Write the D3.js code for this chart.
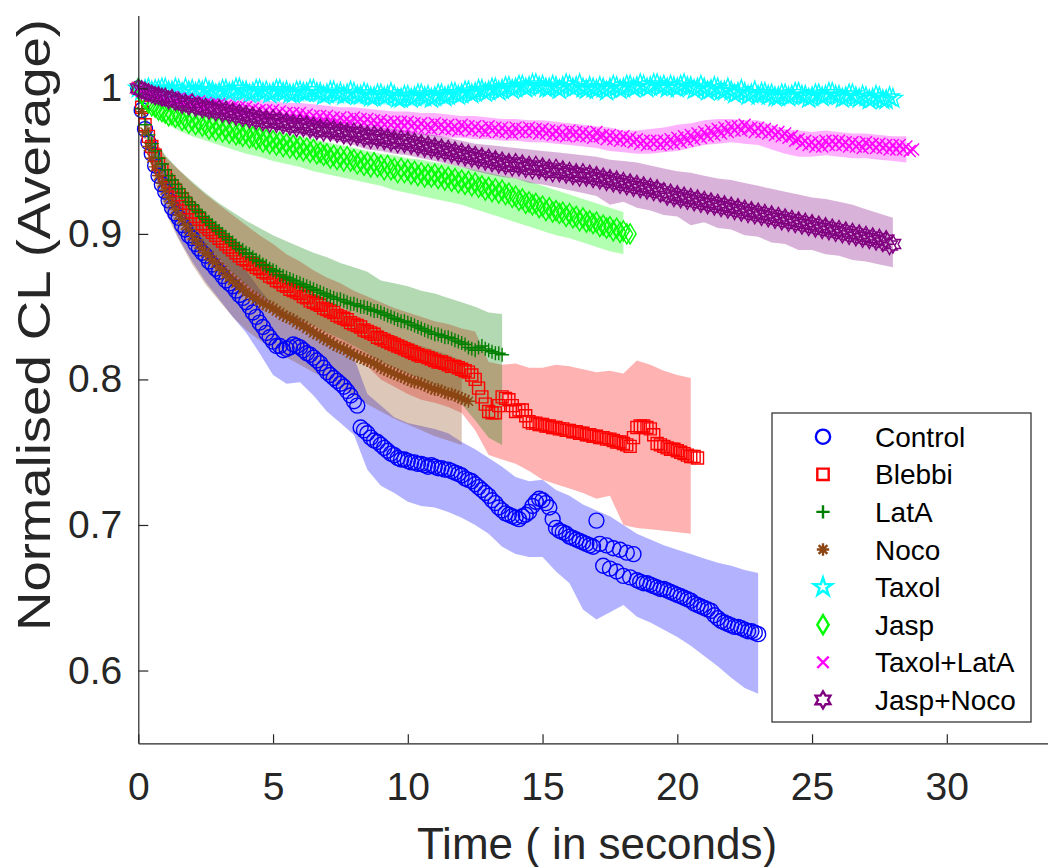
<!DOCTYPE html>
<html><head><meta charset="utf-8">
<script src="https://cdn.jsdelivr.net/npm/d3@7"></script>
<style>body{margin:0;background:#fff}svg{display:block;font-family:"Liberation Sans",Arial,sans-serif}</style>
</head><body><svg id="c" width="1048" height="867"></svg>
<script>
// ---------- data ----------
const timeGrid=[0,0.125,0.25,0.375,0.5,0.625,0.75,0.875,1,1.125,1.25,1.375,1.5,1.625,1.75,1.875,2,2.125,2.25,2.375,2.5,2.625,2.75,2.875,3,3.125,3.25,3.375,3.5,3.625,3.75,3.875,4,4.125,4.25,4.375,4.5,4.625,4.75,4.875,5,5.125,5.25,5.375,5.5,5.625,5.75,5.875,6,6.125,6.25,6.375,6.5,6.625,6.75,6.875,7,7.125,7.25,7.375,7.5,7.625,7.75,7.875,8,8.125,8.25,8.375,8.5,8.625,8.75,8.875,9,9.125,9.25,9.375,9.5,9.625,9.75,9.875,10,10.125,10.25,10.375,10.5,10.625,10.75,10.875,11,11.125,11.25,11.375,11.5,11.625,11.75,11.875,12,12.125,12.25,12.375,12.5,12.625,12.75,12.875,13,13.125,13.25,13.375,13.5,13.625,13.75,13.875,14,14.125,14.25,14.375,14.5,14.625,14.75,14.875,15,15.125,15.25,15.375,15.5,15.625,15.75,15.875,16,16.125,16.25,16.375,16.5,16.625,16.75,16.875,17,17.125,17.25,17.375,17.5,17.625,17.75,17.875,18,18.125,18.25,18.375,18.5,18.625,18.75,18.875,19,19.125,19.25,19.375,19.5,19.625,19.75,19.875,20,20.125,20.25,20.375,20.5,20.625,20.75,20.875,21,21.125,21.25,21.375,21.5,21.625,21.75,21.875,22,22.125,22.25,22.375,22.5,22.625,22.75,22.875,23,23.125,23.25,23.375,23.5,23.625,23.75,23.875,24,24.125,24.25,24.375,24.5,24.625,24.75,24.875,25,25.125,25.25,25.375,25.5,25.625,25.75,25.875,26,26.125,26.25,26.375,26.5,26.625,26.75,26.875,27,27.125,27.25,27.375,27.5,27.625,27.75,27.875,28,28.125,28.25,28.375,28.5,28.625,28.75];
const bandGrid=[0,0.5,1,1.5,2,2.5,3,3.5,4,4.5,5,5.5,6,6.5,7,7.5,8,8.5,9,9.5,10,10.5,11,11.5,12,12.5,13,13.5,14,14.5,15,15.5,16,16.5,17,17.5,18,18.5,19,19.5,20,20.5,21,21.5,22,22.5,23,23.5,24,24.5,25,25.5,26,26.5,27,27.5,28,28.5];

const seriesNames=["Control","Blebbi","LatA","Noco","Taxol","Jasp","Taxol+LatA","Jasp+Noco"];
const xTicks=[0,5,10,15,20,25,30];
const yTicks=[0.6,0.7,0.8,0.9,1];

const control=[1.000,.985,.972,.963,.955,.947,.940,.934,
.929,.923,.918,.914,.911,.906,.903,.899,
.897,.893,.890,.887,.885,.881,.879,.876,
.874,.871,.868,.866,.864,.861,.858,.856,
.853,.850,.846,.843,.839,.836,.832,.829,
.826,.823,.823,.820,.821,.822,.824,.823,
.822,.820,.818,.817,.815,.813,.811,.808,
.805,.803,.801,.799,.797,.795,.792,.789,
.785,.782,.767,.765,.763,.760,.758,.757,
.755,.753,.751,.749,.748,.746,.745,.745,
.744,.743,.743,.742,.742,.741,.740,.741,
.740,.739,.739,.738,.738,.737,.736,.735,
.734,.732,.731,.730,.728,.726,.724,.722,
.720,.717,.715,.712,.710,.708,.707,.706,
.705,.704,.706,.707,.709,.713,.716,.718,
.717,.715,.712,.704,.698,.696,.695,.694,
.692,.691,.690,.689,.688,.687,.686,.685,
.703,.687,.672,.686,.670,.684,.668,.683,
.665,.681,.664,.680,.662,.661,.660,.660,
.659,.658,.657,.656,.656,.655,.654,.653,
.652,.651,.650,.649,.648,.646,.645,.644,
.643,.642,.641,.638,.636,.634,.633,.632,
.631,.630,.630,.629,.628,.627,.627,.626,
.625];
const controlUpper=[1.0,.962,.94,.925,.913,.903,.893,.884,.875,.862,.851,.846,.842,.835,.83,.821,.815,.79,.782,.774,.77,.768,.766,.763,.757,.752,.746,.74,.733,.73,.731,.724,.72,.714,.71,.706,.70,.694,.69,.686,.683,.68,.677,.674,.672,.669,.667];
const controlLower=[1.0,.948,.918,.897,.881,.867,.855,.843,.832,.818,.803,.797,.798,.789,.778,.770,.762,.738,.727,.722,.716,.713,.712,.709,.705,.70,.694,.685,.68,.678,.678,.668,.66,.642,.635,.64,.645,.637,.633,.628,.623,.617,.61,.603,.595,.588,.584];

const blebbi=[1.0,.987,.975,.967,.960,.954,.948,.944,
.940,.936,.933,.930,.927,.924,.921,.918,
.915,.912,.910,.907,.905,.903,.901,.899,
.897,.895,.893,.891,.889,.887,.885,.883,
.882,.880,.879,.877,.876,.874,.873,.871,
.870,.868,.867,.865,.864,.862,.861,.860,
.859,.857,.856,.854,.853,.852,.851,.849,
.848,.847,.846,.844,.843,.842,.841,.839,
.838,.837,.836,.834,.833,.832,.831,.829,
.828,.827,.826,.825,.824,.823,.822,.821,
.820,.819,.818,.817,.816,.816,.815,.814,
.813,.812,.812,.811,.810,.809,.809,.808,
.807,.806,.805,.803,.800,.794,.788,.783,
.778,.777,.777,.782,.788,.787,.786,.782,
.778,.779,.779,.775,.771,.770,.770,.769,
.769,.768,.768,.767,.767,.766,.766,.765,
.765,.764,.764,.763,.763,.762,.762,.761,
.761,.760,.760,.759,.759,.758,.757,.757,
.756,.755,.754,.760,.767,.768,.768,.767,
.766,.762,.756,.755,.754,.753,.752,.752,
.751,.750,.749,.748,.747,.747,.746];
const blebbiUpper=[1.0,.968,.953,.944,.935,.927,.92,.913,.906,.899,.893,.886,.881,.875,.870,.866,.861,.857,.853,.849,.846,.843,.84,.838,.835,.833,.812,.81,.811,.808,.808,.81,.809,.807,.805,.806,.804,.813,.81,.806,.803,.801];
const blebbiLower=[1.0,.952,.927,.91,.895,.883,.874,.865,.858,.853,.847,.842,.837,.831,.826,.82,.815,.809,.80,.795,.79,.786,.784,.781,.777,.765,.748,.745,.742,.737,.731,.728,.725,.722,.718,.72,.70,.698,.697,.696,.695,.694];

const latA=[1.0,.986,.975,.968,.962,.957,.952,.948,
.944,.940,.937,.934,.931,.928,.925,.922,
.920,.917,.915,.912,.910,.908,.906,.904,
.902,.900,.898,.896,.894,.892,.890,.889,
.887,.886,.884,.882,.881,.879,.878,.876,
.875,.874,.872,.871,.870,.869,.868,.867,
.866,.865,.864,.863,.862,.861,.860,.859,
.858,.857,.856,.855,.855,.854,.853,.852,
.852,.851,.850,.850,.849,.848,.847,.847,
.846,.845,.844,.843,.842,.841,.840,.840,
.839,.838,.837,.836,.835,.834,.833,.832,
.831,.831,.830,.829,.829,.828,.827,.826,
.825,.824,.822,.821,.820,.822,.823,.821,
.820,.819,.818,.818,.817];
const latAUpper=[1.0,.968,.954,.944,.936,.928,.921,.915,.909,.904,.899,.895,.891,.887,.884,.88,.877,.874,.868,.866,.864,.861,.859,.856,.853,.85,.846,.845];
const latALower=[1.0,.956,.934,.918,.904,.892,.883,.873,.865,.858,.851,.845,.841,.837,.832,.828,.823,.818,.812,.808,.804,.80,.795,.79,.783,.772,.76,.755];

const noco=[1.0,.984,.970,.960,.952,.946,.940,.935,
.930,.925,.921,.917,.913,.910,.906,.903,
.899,.896,.893,.890,.887,.885,.882,.880,
.877,.875,.872,.870,.868,.866,.864,.862,
.860,.858,.857,.855,.854,.852,.851,.850,
.849,.847,.846,.844,.843,.842,.841,.839,
.838,.837,.835,.834,.832,.831,.830,.828,
.827,.826,.824,.823,.822,.821,.820,.818,
.817,.816,.815,.814,.813,.812,.811,.810,
.808,.807,.806,.805,.804,.803,.802,.801,
.800,.799,.798,.798,.797,.796,.795,.794,
.793,.793,.792,.791,.790,.790,.789,.788,
.787,.786,.785];
const nocoUpper=[1.0,.962,.945,.932,.921,.911,.902,.894,.887,.88,.875,.869,.864,.858,.852,.847,.842,.838,.834,.830,.826,.823,.82,.817,.813];
const nocoLower=[1.0,.942,.915,.896,.879,.865,.854,.843,.834,.827,.821,.815,.81,.805,.80,.794,.789,.783,.778,.773,.769,.765,.761,.758,.755];

const taxol=[1.0,.998,.999,1.0,.998,.999,.999,1.0,
1.0,.998,.998,1.0,.999,.997,1.0,.998,
.999,.997,.999,.998,1.0,.998,.998,.996,
.997,.999,.999,.997,.998,1.0,1.0,.998,
.998,.996,.997,.999,.999,.997,.998,.996,
.997,.999,.999,.997,.998,.996,.996,.998,
.998,.997,.997,.999,.999,.997,.997,.995,
.996,.998,.998,.996,.997,.995,.996,.998,
.997,.995,.995,.997,.996,.994,.994,.996,
.996,.994,.995,.997,.995,.993,.993,.995,
.995,.993,.994,.996,.996,.994,.995,.993,
.994,.996,.996,.994,.995,.997,.997,.995,
.996,.998,.998,.996,.997,.999,.999,.997,
.998,1.0,1.0,.998,.999,1.001,1.001,.999,
1.0,1.002,1.002,1.0,1.001,1.003,1.003,1.001,
1.002,1.0,1.0,1.002,1.001,.999,1.001,1.003,
1.002,1.0,1.001,1.003,1.0,.999,1.001,1.0,
.999,1.001,1.0,.998,1.0,1.002,1.001,.999,
1.0,1.002,1.002,1.0,1.001,1.003,1.002,1.0,
1.001,1.003,1.003,1.001,1.002,1.000,1.002,1.001,
1.0,1.002,1.003,1.001,1.001,.999,1.0,1.002,
1.0,.998,.999,1.001,1.0,.998,.998,1.0,
.998,.996,.997,.999,.997,.995,.996,.998,
.995,.997,.997,.995,.996,.994,.994,.996,
.996,.994,.995,.997,.997,.995,.995,.993,
.994,.996,.996,.994,.995,.997,.997,.995,
.995,.993,.994,.996,.996,.994,.993,.995,
.994,.992,.993,.995,.994,.992,.992,.994,
.993];
const taxolUpper=[1.0,1.003,1.004,1.003,1.003,1.002,1.003,1.002,1.002,1.001,1.001,1.002,1.0,1.0,1.0,.999,.999,.998,.999,.998,.998,.997,.999,.998,1.0,1.002,1.004,1.003,1.005,1.004,1.004,1.003,1.003,1.004,1.004,1.003,1.005,1.004,1.006,1.005,1.004,1.005,1.004,1.003,1.002,1.001,.999,1.0,.999,.998,1.0,.999,.998,.999,.997,.998,.996];
const taxolLower=[1.0,.995,.995,.995,.994,.994,.994,.993,.993,.992,.992,.992,.991,.991,.990,.990,.989,.989,.989,.988,.988,.988,.989,.989,.991,.993,.995,.995,.996,.996,.996,.995,.995,.996,.995,.995,.996,.996,.997,.996,.996,.996,.995,.994,.993,.992,.990,.990,.989,.989,.990,.990,.989,.990,.988,.989,.987];

const jasp=[1.0,.996,.993,.990,.988,.987,.985,.984,
.983,.981,.982,.980,.981,.978,.979,.976,
.978,.975,.977,.974,.975,.972,.974,.971,
.973,.970,.972,.969,.971,.968,.969,.967,
.969,.966,.967,.965,.966,.963,.965,.962,
.964,.961,.963,.960,.962,.959,.961,.958,
.960,.957,.959,.956,.958,.955,.956,.954,
.955,.952,.954,.951,.953,.950,.953,.950,
.951,.948,.950,.947,.949,.946,.949,.946,
.947,.944,.947,.944,.945,.942,.945,.942,
.944,.941,.943,.940,.942,.939,.941,.939,
.941,.938,.940,.937,.939,.936,.938,.935,
.937,.934,.936,.933,.935,.932,.933,.930,
.932,.929,.931,.928,.930,.927,.928,.925,
.926,.923,.924,.921,.922,.920,.921,.918,
.919,.916,.918,.915,.916,.914,.915,.912,
.914,.911,.912,.909,.911,.908,.909,.907,
.908,.905,.906,.904,.905,.902,.904,.901,
.902,.900,.900];
const jaspUpper=[1.0,.993,.989,.986,.983,.981,.979,.977,.975,.973,.971,.969,.967,.965,.963,.961,.959,.957,.955,.954,.952,.951,.949,.948,.946,.944,.942,.94,.938,.936,.933,.930,.927,.924,.921,.918,.915];
const jaspLower=[1.0,.982,.976,.971,.967,.964,.961,.958,.955,.953,.95,.948,.946,.943,.941,.939,.937,.935,.933,.93,.928,.926,.924,.922,.92,.917,.914,.911,.908,.905,.902,.899,.897,.894,.891,.888,.886];

const taxolLatA=[1.0,.998,.997,.997,.996,.995,.995,.994,
.994,.992,.994,.992,.993,.991,.992,.990,
.991,.989,.991,.988,.990,.988,.989,.987,
.989,.986,.988,.986,.987,.985,.987,.984,
.987,.984,.986,.984,.985,.983,.985,.982,
.985,.982,.984,.981,.983,.981,.983,.980,
.983,.980,.982,.979,.981,.979,.981,.978,
.981,.978,.980,.977,.980,.977,.979,.976,
.980,.977,.979,.976,.979,.976,.978,.975,
.978,.975,.977,.975,.977,.974,.977,.974,
.977,.974,.976,.973,.976,.973,.975,.972,
.976,.973,.975,.972,.975,.972,.974,.971,
.975,.972,.974,.971,.974,.971,.973,.970,
.974,.971,.973,.970,.973,.970,.972,.969,
.973,.970,.972,.970,.973,.970,.972,.969,
.972,.969,.971,.968,.971,.968,.970,.967,
.971,.968,.970,.967,.970,.967,.969,.966,
.970,.967,.968,.965,.968,.965,.967,.964,
.967,.964,.966,.963,.965,.962,.964,.961,
.964,.962,.964,.961,.964,.962,.965,.962,
.966,.963,.967,.964,.968,.965,.969,.966,
.970,.967,.971,.968,.972,.969,.973,.970,
.974,.971,.974,.971,.975,.972,.973,.970,
.973,.970,.972,.969,.971,.968,.970,.967,
.969,.966,.967,.964,.965,.962,.964,.961,
.963,.960,.963,.960,.964,.961,.964,.961,
.964,.961,.963,.960,.963,.960,.962,.959,
.963,.960,.962,.959,.962,.959,.961,.958,
.961,.958,.961,.958,.960,.957,.958];
const taxolLatAUpper=[1.0,1.0,.999,.998,.997,.996,.995,.994,.993,.992,.991,.99,.99,.989,.988,.987,.987,.986,.985,.984,.984,.983,.983,.982,.981,.981,.98,.979,.979,.978,.978,.977,.976,.975,.974,.973,.971,.971,.972,.973,.975,.976,.978,.979,.979,.978,.978,.975,.972,.971,.970,.971,.970,.969,.969,.968,.967,.967];
const taxolLatALower=[1.0,.992,.988,.986,.984,.982,.981,.980,.979,.978,.977,.976,.975,.974,.973,.972,.971,.971,.970,.969,.968,.968,.967,.966,.966,.965,.965,.964,.964,.963,.963,.962,.961,.960,.959,.957,.956,.955,.955,.956,.957,.959,.961,.962,.963,.962,.961,.958,.955,.953,.953,.954,.953,.952,.952,.951,.950,.949];

const jaspNoco=[1.0,.999,.998,.997,.996,.995,.995,.994,
.994,.992,.993,.991,.991,.989,.990,.988,
.990,.987,.988,.986,.987,.985,.986,.984,
.986,.983,.985,.982,.984,.981,.983,.980,
.982,.979,.981,.978,.980,.977,.979,.976,
.979,.976,.978,.975,.977,.974,.976,.973,
.976,.973,.975,.972,.974,.971,.973,.970,
.973,.970,.972,.969,.971,.968,.970,.967,
.970,.967,.969,.966,.968,.965,.968,.965,
.967,.964,.966,.963,.965,.962,.965,.962,
.964,.961,.963,.960,.962,.959,.961,.958,
.960,.957,.959,.956,.958,.955,.957,.954,
.956,.953,.955,.952,.954,.951,.953,.950,
.952,.949,.951,.948,.950,.947,.949,.946,
.949,.946,.948,.945,.947,.944,.947,.944,
.946,.943,.945,.942,.945,.942,.944,.941,
.943,.940,.942,.939,.942,.939,.941,.938,
.940,.937,.939,.936,.938,.935,.937,.934,
.936,.933,.935,.932,.934,.931,.933,.930,
.932,.929,.931,.928,.929,.926,.928,.925,
.927,.924,.926,.923,.925,.922,.924,.921,
.923,.920,.922,.919,.921,.918,.920,.917,
.919,.916,.918,.915,.917,.914,.916,.913,
.915,.912,.914,.911,.913,.910,.912,.909,
.911,.908,.910,.907,.909,.906,.908,.905,
.907,.904,.906,.903,.905,.902,.904,.901,
.903,.900,.902,.899,.901,.898,.900,.897,
.899,.896,.898,.895,.897,.894,.896,.892,
.893];
const jaspNocoUpper=[1.0,1.0,.999,.997,.995,.993,.991,.989,.987,.985,.984,.982,.981,.979,.978,.976,.975,.974,.973,.972,.971,.969,.968,.966,.964,.962,.961,.96,.959,.958,.957,.956,.955,.954,.953,.951,.95,.949,.947,.945,.943,.942,.94,.938,.937,.935,.933,.931,.929,.927,.925,.924,.922,.92,.917,.914,.911];
const jaspNocoLower=[1.0,.992,.988,.985,.983,.981,.979,.977,.975,.973,.972,.97,.968,.966,.965,.963,.961,.958,.957,.955,.954,.952,.95,.948,.946,.943,.941,.939,.938,.935,.934,.932,.93,.928,.926,.92,.922,.918,.916,.913,.912,.906,.908,.904,.903,.899,.898,.894,.893,.889,.889,.886,.885,.882,.881,.879,.877];

const seriesColors=["#0000ff","#ff0000","#008000","#8c4614","#00ffff","#00ff00","#ff00ff","#800080"];
const seriesSymbols=["circle","square","plus","asterisk","pentagram","diamond","x","hexagram"];
const seriesValues=[control,blebbi,latA,noco,taxol,jasp,taxolLatA,jaspNoco];
const seriesUpper=[controlUpper,blebbiUpper,latAUpper,nocoUpper,taxolUpper,jaspUpper,taxolLatAUpper,jaspNocoUpper];
const seriesLower=[controlLower,blebbiLower,latALower,nocoLower,taxolLower,jaspLower,taxolLatALower,jaspNocoLower];

// ---------- drawing ----------
const svg=d3.select("#c");
const x=d3.scaleLinear().domain([0,35]).range([138.3,138.3+35*26.95]);
const y=d3.scaleLinear().domain([0.55,1.05]).range([743.3,743.3-0.5*1455.5]);
const ink="#262626";

function symPath(type,k){
  k=k||1;
  switch(type){
    case "circle":{const r=7.5*k;return `M${r},0A${r},${r} 0 1 1 ${-r},0A${r},${r} 0 1 1 ${r},0Z`;}
    case "square":{const h=6*k;return `M${-h},${-h}H${h}V${h}H${-h}Z`;}
    case "plus":{const h=7*k;return `M${-h},0H${h}M0,${-h}V${h}`;}
    case "x":{const h=6*k;return `M${-h},${-h}L${h},${h}M${-h},${h}L${h},${-h}`;}
    case "asterisk":{const h=6.5*k,a=h*0.707;return `M${-h},0H${h}M0,${-h}V${h}M${-a},${-a}L${a},${a}M${-a},${a}L${a},${-a}`;}
    case "diamond":{const hx=6*k,hy=10*k;return `M0,${-hy}L${hx},0L0,${hy}L${-hx},0Z`;}
    case "pentagram":{const R=10*k,r=R*0.382;let p=[];for(let i=0;i<10;i++){const a=-Math.PI/2+i*Math.PI/5,rr=i%2?r:R;p.push([rr*Math.cos(a),rr*Math.sin(a)]);}return "M"+p.map(q=>q[0].toFixed(2)+","+q[1].toFixed(2)).join("L")+"Z";}
    case "hexagram":{const R=9*k,r=R/Math.sqrt(3);let p=[];for(let i=0;i<12;i++){const a=-Math.PI/2+i*Math.PI/6,rr=i%2?r:R;p.push([rr*Math.cos(a),rr*Math.sin(a)]);}return "M"+p.map(q=>q[0].toFixed(2)+","+q[1].toFixed(2)).join("L")+"Z";}
  }
}

// bands
const bandLayer=svg.append("g");
seriesNames.forEach((nm,i)=>{
  const up=seriesUpper[i],lo=seriesLower[i];
  const pts=up.map((u,j)=>({t:bandGrid[j],u:u,l:lo[j]}));
  const area=d3.area().x(d=>x(d.t)).y0(d=>y(d.l)).y1(d=>y(d.u));
  bandLayer.append("path").attr("d",area(pts)).attr("fill",seriesColors[i]).attr("fill-opacity",0.3).attr("stroke","none");
});

// markers
const markLayer=svg.append("g");
seriesNames.forEach((nm,i)=>{
  const vals=seriesValues[i];
  const pts=vals.map((v,j)=>({t:timeGrid[j],v:v}));
  const d=symPath(seriesSymbols[i]);
  markLayer.append("g").selectAll("path").data(pts).join("path")
    .attr("transform",p=>`translate(${x(p.t)},${y(p.v)})`)
    .attr("d",d).attr("fill","none").attr("stroke",seriesColors[i]).attr("stroke-width",1.4);
});

// axes
const fs=39;
const gx=svg.append("g").attr("transform",`translate(0,${y(0.55)})`)
  .call(d3.axisBottom(x).tickValues(xTicks).tickSize(-9).tickPadding(29).tickFormat(d3.format("d")).tickSizeOuter(0));
const gy=svg.append("g").attr("transform",`translate(${x(0)},0)`)
  .call(d3.axisLeft(y).tickValues(yTicks).tickSize(-10).tickPadding(16).tickFormat(d=>d===1?"1":d3.format(".1f")(d)).tickSizeOuter(0));
[gx,gy].forEach(g=>{
  g.selectAll(".domain").attr("stroke",ink).attr("stroke-width",1.2);
  g.selectAll(".tick line").attr("stroke",ink).attr("stroke-width",1.2);
  g.selectAll("text").attr("fill",ink).style("font-size",fs+"px").style("font-family",'"Liberation Sans",Arial,sans-serif');
});

svg.append("text").attr("x",597).attr("y",859).attr("text-anchor","middle")
  .attr("fill",ink).style("font-size","44px").text("Time ( in seconds)");
svg.append("text").attr("transform","translate(50,325) rotate(-90)").attr("text-anchor","middle")
  .attr("fill",ink).style("font-size","46px")
  .attr("textLength",612).attr("lengthAdjust","spacingAndGlyphs").text("Normalised CL (Average)");

// legend
const lg=svg.append("g");
lg.append("rect").attr("x",772).attr("y",413).attr("width",259).attr("height",309)
  .attr("fill","#fff").attr("stroke",ink).attr("stroke-width",1.2);
seriesNames.forEach((nm,i)=>{
  const cy=436.7+i*37.6;
  lg.append("path").attr("transform",`translate(823,${cy})`).attr("d",symPath(seriesSymbols[i],0.95))
    .attr("fill","none").attr("stroke",seriesColors[i]).attr("stroke-width",2.4);
  lg.append("text").attr("x",875).attr("y",cy).attr("dy","0.36em").attr("fill","#000")
    .style("font-size","28px").text(nm);
});
</script></body></html>
